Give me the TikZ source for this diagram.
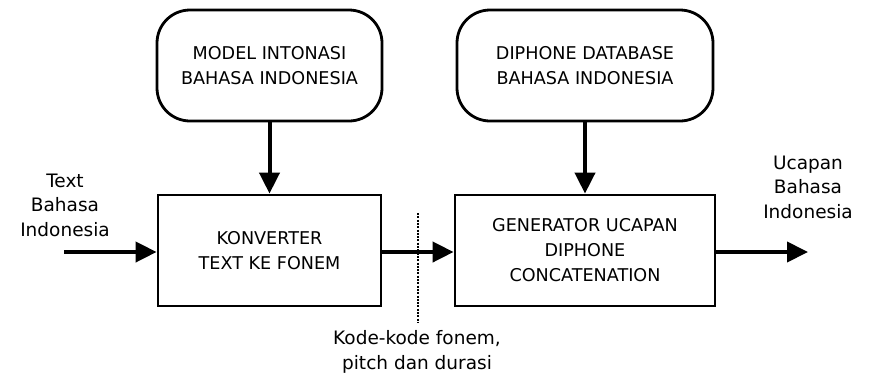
\documentclass[tikz,border=0pt]{standalone}
\usepackage{fontspec}
\setmainfont{DejaVu Sans}
\usetikzlibrary{arrows.meta}
\begin{document}
\begin{tikzpicture}[x=1pt,y=-1pt,
  boxtext/.style={font=\fontsize{17.6}{25}\selectfont, align=center},
  roundbox/.style={draw, line width=2.8pt, rounded corners=33pt, minimum height=111pt, boxtext},
  blockbox/.style={draw, line width=2.8pt, minimum height=111pt, boxtext},
  lbl/.style={font=\fontsize{18.5}{24.5}\selectfont, align=center, inner sep=0pt},
  flow/.style={line width=4pt, -{Triangle[length=21pt,width=20pt]}},
  divider/.style={line width=2pt, dash pattern=on 2pt off 1.3pt}]
\useasboundingbox (0,0) rectangle (870,376);
\node[roundbox, minimum width=225pt] (model) at (269.5,65.5) {MODEL INTONASI\\BAHASA INDONESIA};
\node[roundbox, minimum width=256pt] (db) at (585,65.5) {DIPHONE DATABASE\\BAHASA INDONESIA};
\node[blockbox, minimum width=223pt] (konv) at (269.5,250.5) {KONVERTER\\TEXT KE FONEM};
\node[blockbox, minimum width=260pt] (gen) at (585,250.5) {GENERATOR UCAPAN\\DIPHONE\\CONCATENATION};
\node[lbl] (inlbl) at (65,205) {Text\\Bahasa\\Indonesia};
\node[lbl] (outlbl) at (808,187) {Ucapan\\Bahasa\\Indonesia};
\node[lbl] (kode) at (417,352) {Kode-kode fonem,\\pitch dan durasi};
\coordinate (in) at (64,252);
\coordinate (out) at (808,252);
\coordinate (dtop) at (418,213);
\coordinate (dbot) at (418,322);
\draw[flow] (model.south) -- (konv.north);
\draw[flow] (db.south) -- (gen.north);
\draw[flow] (in) -- (in -| konv.west);
\draw[flow] (konv.east |- in) -- (gen.west |- in);
\draw[flow] (gen.east |- out) -- (out);
\draw[divider] (dtop) -- (dbot);
\end{tikzpicture}
\end{document}
